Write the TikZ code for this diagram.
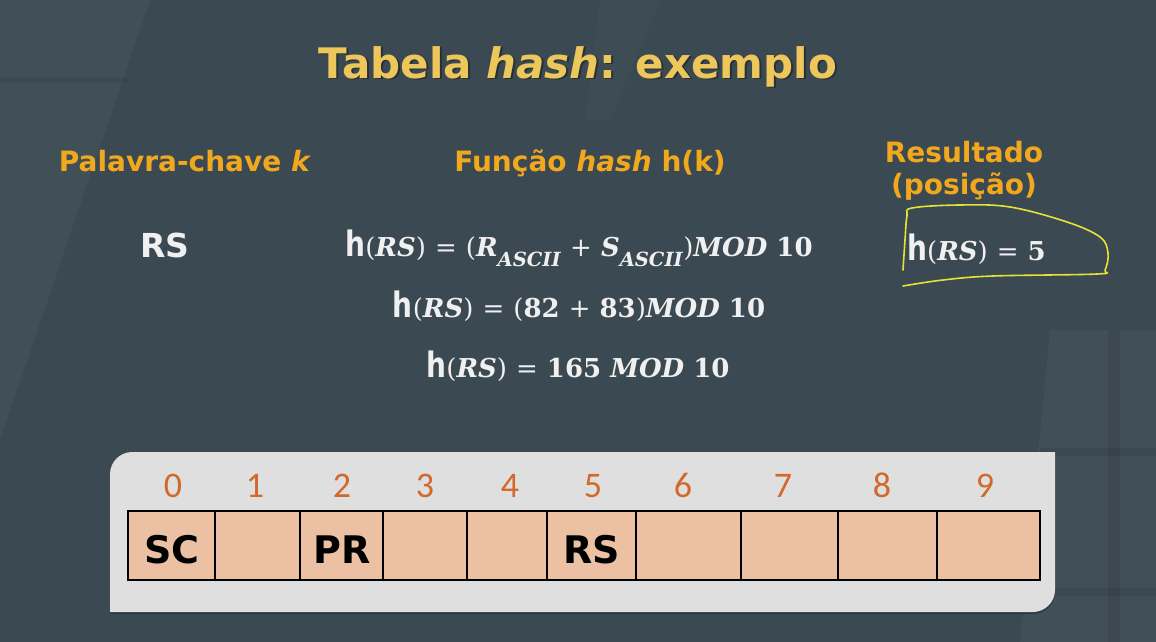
\documentclass[tikz,border=0pt]{standalone}
\usepackage{graphicx}
\usepackage{fontspec}
\setmainfont{DejaVu Sans}
\newfontfamily\mathserif{DejaVu Serif}
\newfontfamily\idxfont{Carlito}

\definecolor{bg}{HTML}{3B4A52}
\definecolor{titlegold}{HTML}{EDC75B}
\definecolor{headorange}{HTML}{F2A81D}
\definecolor{formwhite}{HTML}{F0F0F0}
\definecolor{panelgray}{HTML}{DFDFDF}
\definecolor{cellfill}{HTML}{EBC0A3}
\definecolor{idxorange}{HTML}{D2692C}
\definecolor{markyellow}{HTML}{E4E436}

\newcommand{\fsz}[1]{\fontsize{#1}{#1}\selectfont}
% upright bold sans "h" of the hash function, slightly narrowed
\newcommand{\hh}{\scalebox{0.8}[1]{\normalfont\fsz{35}\bfseries h}}
\newcommand{\rsit}{\textit{RS}}
\newcommand{\ascii}{\raisebox{-0.4em}{\fsz{19.5}\textit{ASCII}}}
% light-weight operators and brackets
\newcommand{\lt}[1]{{\mdseries #1}}

\tikzset{
  titletext/.style={anchor=base, text=titlegold, font=\fsz{42}\bfseries, inner sep=0},
  headtext/.style={anchor=base, text=headorange, font=\fsz{28}\bfseries, inner sep=0},
  keytext/.style={anchor=base, text=formwhite, font=\fsz{33}\bfseries, inner sep=0},
  formula/.style={anchor=base, text=formwhite, font=\fsz{26}\mathserif\bfseries, inner sep=0},
  cellbox/.style={draw=black, line width=1.5pt, fill=cellfill, inner sep=0, minimum height=69pt},
  celltext/.style={anchor=base, font=\fsz{38}\bfseries, text=black, inner sep=0},
  idxtext/.style={anchor=base, font=\fsz{36}\idxfont, text=idxorange, inner sep=0},
  faint/.style={fill=white, fill opacity=0.03},
}

\begin{document}
\begin{tikzpicture}[x=1pt, y=-1pt]
  % background
  \fill[bg] (0,0) rectangle (1156,642);
  \useasboundingbox (0,0) rectangle (1156,642);
  \fill[faint] (0,0) -- (150,0) -- (0,440) -- cycle;
  \fill[white, fill opacity=0.02] (600,0) -- (660,0) -- (610,120) -- (585,120) -- cycle;
  \fill[faint] (1050,330) -- (1156,330) -- (1156,642) -- (1020,642) -- cycle;
  \fill[black, fill opacity=0.07] (0,78) rectangle (130,82);
  \fill[black, fill opacity=0.07] (1040,448) rectangle (1156,456);
  \fill[black, fill opacity=0.07] (1040,588) rectangle (1156,596);
  \fill[black, fill opacity=0.07] (1108,330) rectangle (1120,642);

  % title with soft shadow
  \node[titletext, text=black, opacity=0.35] at (580,80) {Tabela \textit{hash}: exemplo};
  \node[titletext] (title) at (578,78) {Tabela \textit{hash}: exemplo};

  % column headings
  \node[headtext] (hkey) at (185,171) {Palavra-chave \textit{k}};
  \node[headtext] (hfun) at (590,171) {Função \textit{hash} h(k)};
  \node[headtext] (hres1) at (964,162) {Resultado};
  \node[headtext] (hres2) at (964,194) {(posição)};

  % key
  \node[keytext] (key) at (165,257) {RS};

  % computation
  \node[formula] (f1) at (579,256)
    {\hh\lt{(}\rsit\lt{)}\ \lt{=}\ \lt{(}\textit{R}\ascii\ \lt{+}\ \textit{S}\ascii\lt{)}\textit{MOD}\ 10};
  \node[formula] (f2) at (579,317)
    {\hh\lt{(}\rsit\lt{)}\ \lt{=}\ \lt{(}82\ \lt{+}\ 83\lt{)}\textit{MOD}\ 10};
  \node[formula] (f3) at (578,377)
    {\hh\lt{(}\rsit\lt{)}\ \lt{=}\ 165\ \textit{MOD}\ 10};

  % result with hand-drawn loop
  \node[formula, anchor=base west] (res) at (907,260) {\hh\lt{(}\rsit\lt{)}\ \lt{=}\ 5};
  \draw[markyellow, line width=1.6pt, line cap=round, line join=round]
    plot[smooth, tension=0.6] coordinates {(903,270) (905,240) (907,216) (912,208) (960,205)
      (1010,207) (1067,222) (1100,237) (1108,253) (1105,270) (1097,274) (993,276) (943,280) (903,286)};

  % table panel
  \fill[black, opacity=0.25] (110,614) -- (110,474) .. controls (110,462) and (120,452) .. (132,452)
    -- (1055,452) -- (1055,592) .. controls (1055,604) and (1045,614) .. (1033,614) -- cycle;
  \fill[panelgray] (110,612) -- (110,474) .. controls (110,462) and (120,452) .. (132,452)
    -- (1055,452) -- (1055,590) .. controls (1055,602) and (1045,612) .. (1033,612) -- cycle;

  % cells
  \node[cellbox, minimum width=87pt]  (c0) at (171.5,545.5) {};
  \node[cellbox, minimum width=85pt]  (c1) at (257.5,545.5) {};
  \node[cellbox, minimum width=83pt]  (c2) at (341.5,545.5) {};
  \node[cellbox, minimum width=84pt]  (c3) at (425,545.5) {};
  \node[cellbox, minimum width=80pt]  (c4) at (507,545.5) {};
  \node[cellbox, minimum width=89pt]  (c5) at (591.5,545.5) {};
  \node[cellbox, minimum width=105pt] (c6) at (688.5,545.5) {};
  \node[cellbox, minimum width=97pt]  (c7) at (789.5,545.5) {};
  \node[cellbox, minimum width=99pt]  (c8) at (887.5,545.5) {};
  \node[cellbox, minimum width=103pt] (c9) at (988.5,545.5) {};

  \node[celltext] (sc) at (172,563) {SC};
  \node[celltext] (pr) at (342,563) {PR};
  \node[celltext] (rs) at (592,563) {RS};

  % indices
  \node[idxtext] (i0) at (173,497) {0};
  \node[idxtext] (i1) at (255,497) {1};
  \node[idxtext] (i2) at (342,497) {2};
  \node[idxtext] (i3) at (425,497) {3};
  \node[idxtext] (i4) at (510,497) {4};
  \node[idxtext] (i5) at (593,497) {5};
  \node[idxtext] (i6) at (683,497) {6};
  \node[idxtext] (i7) at (783,497) {7};
  \node[idxtext] (i8) at (882,497) {8};
  \node[idxtext] (i9) at (985,497) {9};
\end{tikzpicture}
\end{document}
